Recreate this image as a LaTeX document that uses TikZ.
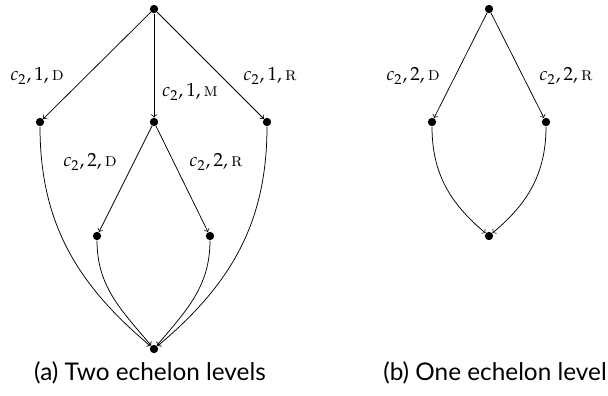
\documentclass[tikz,border=0pt]{standalone}
\usepackage{mathpazo}
\usepackage{fontspec}
\newfontfamily\capfont{Lato}
\begin{document}
\begin{tikzpicture}[x=0.6pt,y=-0.6pt,
  dot/.style={circle,fill=black,inner sep=0pt,minimum size=5pt},
  edge/.style={->,line width=0.45pt},
  lbl/.style={font=\fontsize{11.4}{13}\selectfont,inner sep=0pt},
  captext/.style={font=\capfont\fontsize{14.6}{18}\selectfont,inner sep=0pt}]
\useasboundingbox (0,0) rectangle (608,395);
% (a)
\node[dot] (a0) at (154,9) {};
\node[dot] (a1) at (40,122) {};
\node[dot] (a2) at (154,122) {};
\node[dot] (a3) at (267,122) {};
\node[dot] (a4) at (97,236) {};
\node[dot] (a5) at (210,236) {};
\node[dot] (a6) at (154,349) {};
\draw[edge] (a0) -- (a1);
\draw[edge] (a0) -- (a2);
\draw[edge] (a0) -- (a3);
\draw[edge] (a2) -- (a4);
\draw[edge] (a2) -- (a5);
\draw[edge] (a1) to[out=-90,in=140] (a6);
\draw[edge] (a4) to[out=-90,in=130] (a6);
\draw[edge] (a3) to[out=-90,in=40] (a6);
\draw[edge] (a5) to[out=-90,in=50] (a6);
\node[lbl] (l1) at (37,76) {$c_2, 1, \textsc{d}$};
\node[lbl] (l2) at (190,92) {$c_2, 1, \textsc{m}$};
\node[lbl] (l3) at (270,76) {$c_2, 1, \textsc{r}$};
\node[lbl] (l4) at (90,162) {$c_2, 2, \textsc{d}$};
\node[lbl] (l5) at (216,162) {$c_2, 2, \textsc{r}$};
\node[captext] (ca) at (150,373) {(a) Two echelon levels};
% (b)
\node[dot] (b0) at (489,9) {};
\node[dot] (b1) at (432,122) {};
\node[dot] (b2) at (546,122) {};
\node[dot] (b3) at (489,236) {};
\draw[edge] (b0) -- (b1);
\draw[edge] (b0) -- (b2);
\draw[edge] (b1) to[out=-90,in=140] (b3);
\draw[edge] (b2) to[out=-90,in=40] (b3);
\node[lbl] (l6) at (413,76) {$c_2, 2, \textsc{d}$};
\node[lbl] (l7) at (566,76) {$c_2, 2, \textsc{r}$};
\node[captext] (cb) at (495,373) {(b) One echelon level};
\end{tikzpicture}
\end{document}
